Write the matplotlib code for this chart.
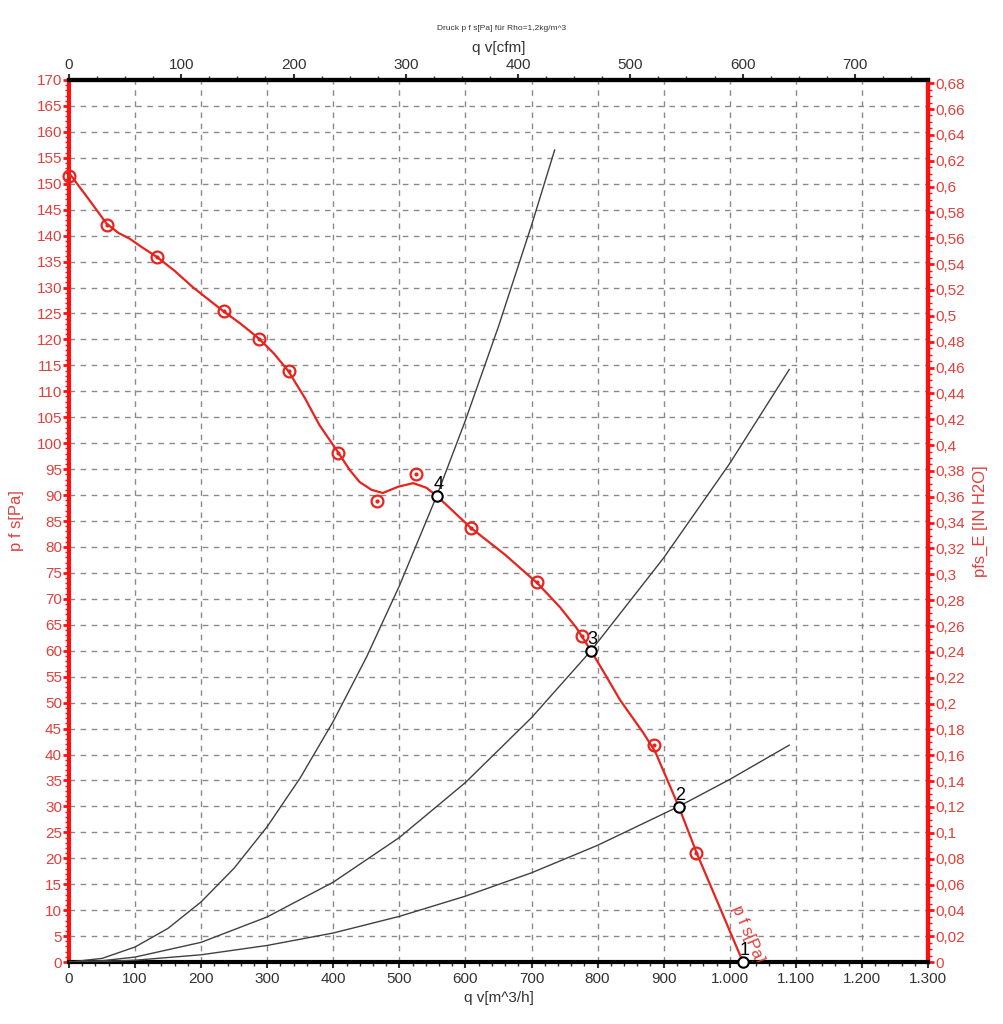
import matplotlib
matplotlib.use('Agg')
import matplotlib.pyplot as plt
from matplotlib.ticker import MultipleLocator, FuncFormatter

plt.rcParams['font.family'] = ['Liberation Sans', 'DejaVu Sans']

# fan curve p f s [Pa] over q v [m^3/h]
line_q = [0, 30, 57, 75, 92, 110, 133, 160, 188, 210, 233, 260, 288, 310, 332, 357, 379,
          407, 425, 440, 458, 475, 498, 521, 541, 557, 608, 660, 709, 743, 768, 790, 812,
          834, 869, 887, 923, 950, 985, 1020]
line_p = [152.1, 147.0, 142.3, 140.5, 139.4, 137.8, 135.9, 133.2, 130.0, 127.8, 125.5, 123.0,
          120.1, 117.3, 113.9, 108.7, 103.5, 98.3, 94.8, 92.5, 91.0, 90.4, 91.6, 92.3, 91.4,
          89.8, 83.7, 78.5, 73.0, 68.4, 64.4, 60.0, 55.3, 50.5, 44.2, 40.6, 29.9, 21.0, 10.5,
          0.0]

# measured points
meas_q = [0, 57, 133, 235, 288, 333, 407, 466, 525, 608, 708, 777, 885, 949]
meas_p = [151.5, 142.1, 135.9, 125.5, 120.1, 113.9, 98.1, 88.9, 94.1, 83.7, 73.2, 62.8, 41.8, 21.0]

# system curves
sysA_q = [0, 50, 100, 150, 200, 250, 300, 350, 400, 450, 500, 557, 600, 650, 700, 735]
sysA_p = [0, 0.7, 2.9, 6.5, 11.6, 18.1, 26.1, 35.5, 46.4, 58.7, 72.5, 90, 104.4, 122.5, 142, 156.5]
sysB_q = [0, 50, 100, 200, 300, 400, 500, 600, 700, 790, 900, 1000, 1090]
sysB_p = [0, 0.25, 0.96, 3.8, 8.7, 15.4, 24.0, 34.6, 47.1, 60, 77.9, 96.1, 114.2]
sysC_q = [0, 50, 100, 200, 300, 400, 500, 600, 700, 800, 923, 1000, 1090]
sysC_p = [0, 0.1, 0.35, 1.4, 3.2, 5.6, 8.8, 12.7, 17.2, 22.5, 30, 35.2, 41.8]

# operating points
op_q = [1020, 923, 790, 557]
op_p = [0, 29.9, 60, 89.8]
op_labels = ['1', '2', '3', '4']

RED = '#e8231e'
LRED = '#e0403c'
GREY = '#333333'

fig = plt.figure(figsize=(10.04, 10.24), dpi=100)
ax = fig.add_axes([0.0687, 0.0605, 0.8556, 0.8614])
ax.set_xlim(0, 1300)
ax.set_ylim(0, 170)

# grid
ax.xaxis.set_major_locator(MultipleLocator(100))
ax.xaxis.set_minor_locator(MultipleLocator(20))
ax.yaxis.set_major_locator(MultipleLocator(5))
ax.yaxis.set_minor_locator(MultipleLocator(1))
ax.grid(True, which='major', color='#8a8a8a', linestyle=(0, (4, 4)), linewidth=1)

for q, p in [(sysA_q, sysA_p), (sysB_q, sysB_p), (sysC_q, sysC_p)]:
    ax.plot(q, p, color='#404040', linewidth=1, zorder=3)

ax.plot(line_q, line_p, color=RED, linewidth=1.6, zorder=4)
ax.plot(meas_q, meas_p, linestyle='none', marker='o', markersize=8.5, markerfacecolor='none',
        markeredgecolor=RED, markeredgewidth=1.6, zorder=5, clip_on=False)
ax.plot(meas_q, meas_p, linestyle='none', marker='o', markersize=2, color=RED, zorder=5, clip_on=False)

ax.plot(op_q, op_p, linestyle='none', marker='o', markersize=7.5, markerfacecolor='white',
        markeredgecolor='black', markeredgewidth=1.5, zorder=6, clip_on=False)
for q, p, t in zip(op_q, op_p, op_labels):
    ax.annotate(t, (q, p), xytext=(1, 2), textcoords='offset points', ha='center',
                va='bottom', fontsize=13, color='black', zorder=7)

# curve name along the line, tail cut by the bottom edge
ax.text(1027, 5.3, 'p f s[Pa]', rotation=-67, color=LRED, fontsize=12, ha='center',
        va='center', zorder=6, clip_on=True)

# spines
for s in ['left', 'right']:
    ax.spines[s].set_color('#ff1010')
    ax.spines[s].set_linewidth(3)
for s in ['top', 'bottom']:
    ax.spines[s].set_color('black')
    ax.spines[s].set_linewidth(3)

def thousands(v, pos):
    return '{:,.0f}'.format(v).replace(',', '.')

ax.xaxis.set_major_formatter(FuncFormatter(thousands))
ax.tick_params(axis='x', which='major', direction='out', length=4, width=1.5, colors=GREY,
               labelsize=11, pad=3)
ax.tick_params(axis='x', which='minor', direction='out', length=3, width=1, colors=GREY)
ax.tick_params(axis='y', which='major', direction='out', length=4, width=2, color='#ff1010',
               labelcolor=LRED, labelsize=11, pad=1)
ax.tick_params(axis='y', which='minor', direction='out', length=3, width=1, color='#ff1010')

ax.set_xlabel('q v[m^3/h]', color=GREY, fontsize=11, labelpad=4)
ax.set_ylabel('p f s[Pa]', color=LRED, fontsize=12, labelpad=9)

# top axis in cfm
CFM = 1.69901
top = ax.secondary_xaxis('top', functions=(lambda x: x / CFM, lambda x: x * CFM))
top.xaxis.set_major_locator(MultipleLocator(100))
top.xaxis.set_minor_locator(MultipleLocator(25))
top.tick_params(axis='x', which='major', direction='out', length=4, width=1.5, colors=GREY,
                labelsize=11, pad=2)
top.tick_params(axis='x', which='minor', direction='out', length=3, width=1, colors=GREY)
top.spines['top'].set_color('black')
top.spines['top'].set_linewidth(3)
top.set_xlabel('q v[cfm]', color=GREY, fontsize=11, labelpad=4)

# right axis in IN H2O
INH2O = 249.089
right = ax.secondary_yaxis('right', functions=(lambda y: y / INH2O, lambda y: y * INH2O))
right.yaxis.set_major_locator(MultipleLocator(0.02))
right.yaxis.set_minor_locator(MultipleLocator(0.005))

def comma(v, pos):
    return '{:g}'.format(round(v, 3)).replace('.', ',')

right.yaxis.set_major_formatter(FuncFormatter(comma))
right.tick_params(axis='y', which='major', direction='out', length=4, width=2, color='#ff1010',
                  labelcolor=LRED, labelsize=11, pad=1)
right.tick_params(axis='y', which='minor', direction='out', length=3, width=1, color='#ff1010')
right.spines['right'].set_color('#ff1010')
right.spines['right'].set_linewidth(3)
right.set_ylabel('pfs_E [IN H2O]', color=LRED, fontsize=12, labelpad=6)

fig.text(0.5, 0.972, 'Druck p f s[Pa] für Rho=1,2kg/m^3', ha='center', va='center',
         fontsize=6, color=GREY)

fig.savefig('out.png', dpi=100)
